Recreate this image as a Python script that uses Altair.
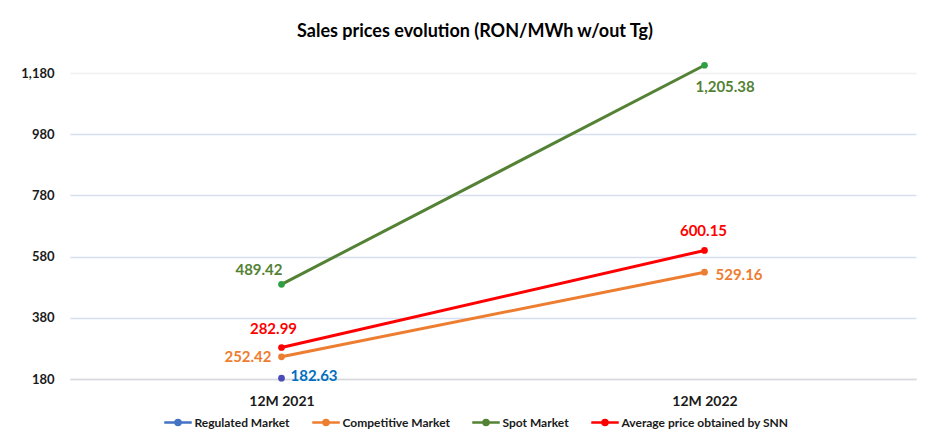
import altair as alt
import pandas as pd

# ---- data ----
periods = ["12M 2021", "12M 2022"]
series = ["Regulated Market", "Competitive Market", "Spot Market",
          "Average price obtained by SNN"]
regulated = [182.63, None]
competitive = [252.42, 529.16]
spot = [489.42, 1205.38]
average = [282.99, 600.15]
y_ticks = [180, 380, 580, 780, 980, 1180]

# ---- styling ----
line_colors = ["#4472C4", "#ED7D31", "#548235", "#FF0000"]
marker_colors = ["#4B4BB8", "#ED7D31", "#2EA043", "#FF0000"]
label_colors = ["#0070C0", "#ED7D31", "#548235", "#FF0000"]
FONT = "Lato"

values = [regulated, competitive, spot, average]
rows = []
for s, vals, mc, lc in zip(series, values, marker_colors, label_colors):
    for p, v in zip(periods, vals):
        if v is not None:
            rows.append({"series": s, "period": p, "value": v,
                         "marker": mc, "labelcolor": lc,
                         "label": f"{v:,.2f}"})
df = pd.DataFrame(rows)

x_enc = alt.X("period:N", sort=periods,
              scale=alt.Scale(paddingInner=0, paddingOuter=0),
              axis=alt.Axis(title=None, labelAngle=0, labelFont=FONT,
                            labelFontSize=14, labelFontWeight="bold",
                            labelColor="#1a1a1a", labelPadding=15,
                            ticks=False, domainColor="#d9d9d9",
                            domainWidth=1.5, grid=False))
y_enc = alt.Y("value:Q",
              scale=alt.Scale(domain=[180, 1180], nice=False, zero=False),
              axis=alt.Axis(title=None, values=y_ticks, format=",.0f",
                            labelFont=FONT, labelFontSize=13,
                            labelFontWeight="bold", labelColor="#1a1a1a",
                            labelPadding=16, ticks=False, domain=False,
                            gridColor=alt.condition("datum.value == 1180",
                                                    alt.value("#f0f0f0"),
                                                    alt.value("#d5dff0")),
                            gridWidth=1.5))

# line with a dot: concentric stroked circles look like a filled dot
legend_symbol = ("M-2.75,0L2.75,0"
                 "M0.5,0A0.5,0.5,0,1,1,-0.5,0A0.5,0.5,0,1,1,0.5,0"
                 "M0.22,0A0.22,0.22,0,1,1,-0.22,0A0.22,0.22,0,1,1,0.22,0")
color_enc = alt.Color("series:N", sort=series,
                      scale=alt.Scale(domain=series, range=line_colors),
                      legend=alt.Legend(orient="none", direction="horizontal",
                                        legendX=101.5, legendY=343,
                                        title=None, symbolType=legend_symbol,
                                        symbolSize=100, symbolStrokeWidth=2.5,
                                        labelFont=FONT, labelFontSize=12,
                                        labelFontWeight="bold",
                                        labelColor="#1a1a1a", labelLimit=300,
                                        columnPadding=16, padding=0,
                                        labelOffset=10))

base = alt.Chart(df)
lines = base.mark_line(strokeWidth=3).encode(x=x_enc, y=y_enc, color=color_enc)
points = base.mark_circle(size=45, opacity=1).encode(
    x=alt.X("period:N", sort=periods), y="value:Q",
    fill=alt.Fill("marker:N", scale=None))

label_specs = [
    ("Regulated Market", "12M 2021", "left", 9, -2),
    ("Competitive Market", "12M 2021", "right", -10, 0),
    ("Competitive Market", "12M 2022", "left", 11, 3),
    ("Spot Market", "12M 2021", "right", 1, -14),
    ("Spot Market", "12M 2022", "left", -9, 22),
    ("Average price obtained by SNN", "12M 2021", "center", -8, -18),
    ("Average price obtained by SNN", "12M 2022", "center", -1, -19),
]
label_layers = []
for s, p, al, dx, dy in label_specs:
    label_layers.append(
        base.transform_filter((alt.datum.series == s) & (alt.datum.period == p))
        .mark_text(align=al, baseline="middle", dx=dx, dy=dy, font=FONT,
                   fontSize=15, fontWeight="bold")
        .encode(x=alt.X("period:N", sort=periods), y="value:Q",
                text="label:N", color=alt.Color("labelcolor:N", scale=None))
    )

chart = alt.layer(lines, points, *label_layers).properties(
    width=846, height=306,
    title=alt.TitleParams("Sales prices evolution (RON/MWh w/out Tg)",
                          font=FONT, fontSize=18, fontWeight="bold",
                          color="#000000", anchor="middle", dx=-18, offset=18),
    autosize=alt.AutoSizeParams(type="none"),
    padding={"left": 62, "top": 65, "right": 6, "bottom": 53},
    background="white",
).configure_view(stroke=None)

chart.save("out.html", embed_options={"renderer": "svg", "actions": False})
